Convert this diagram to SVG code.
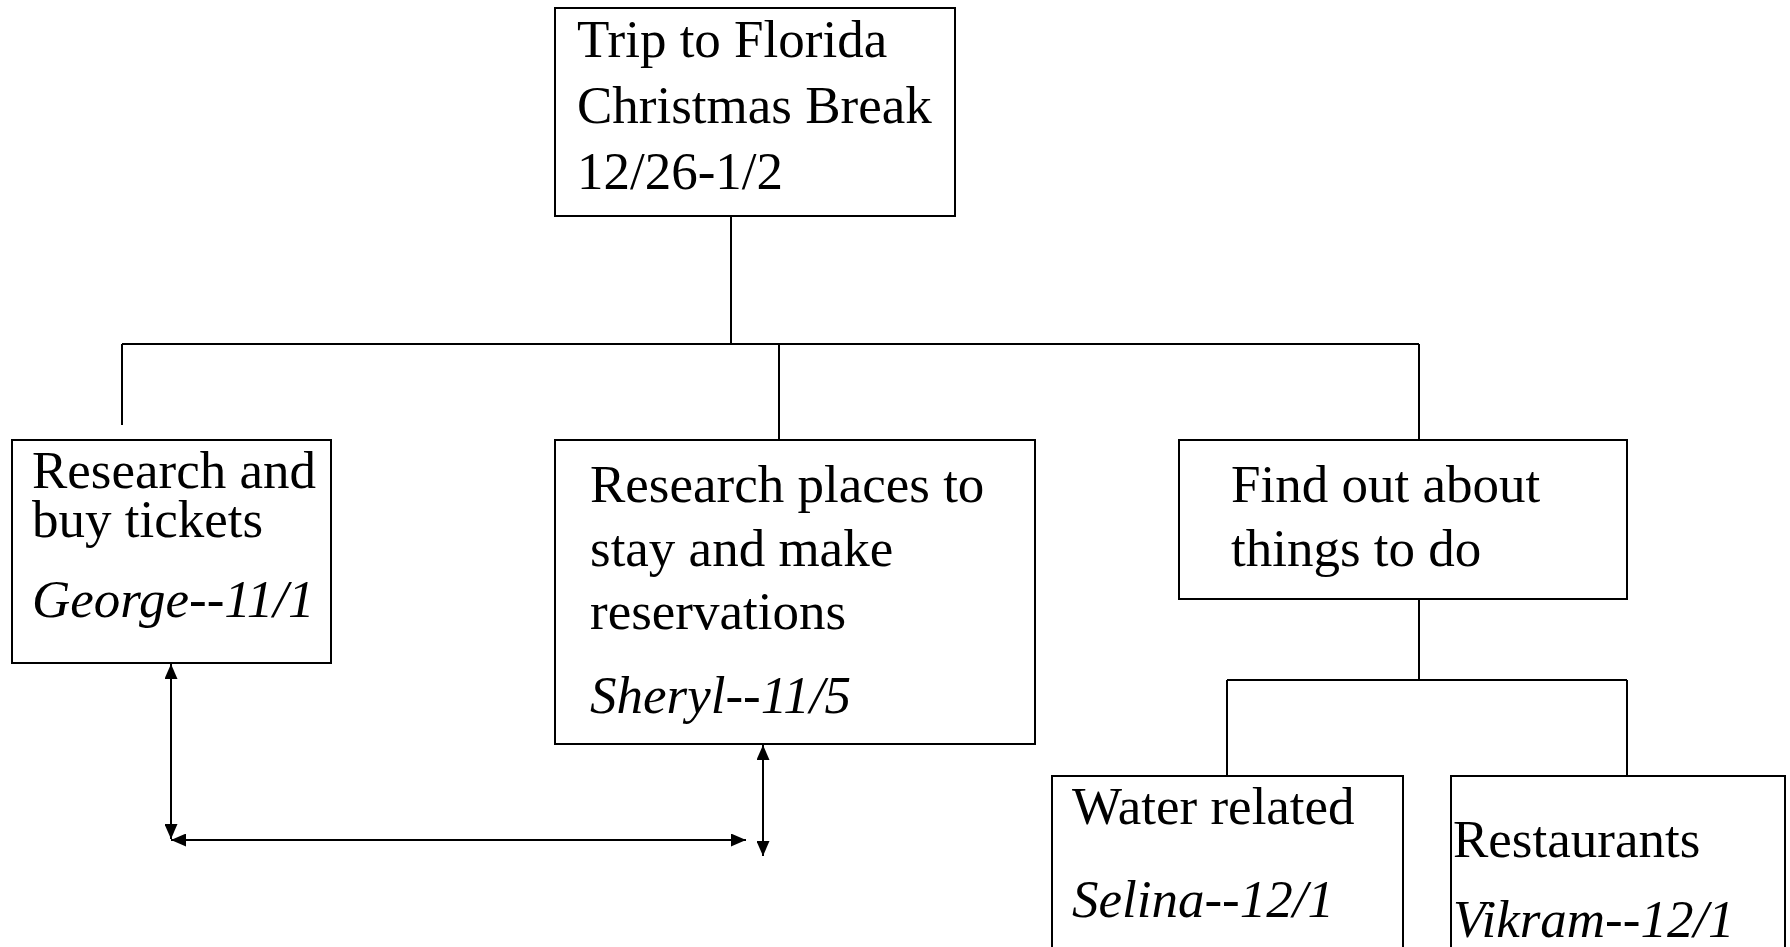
<svg xmlns="http://www.w3.org/2000/svg" width="1790" height="947" viewBox="0 0 1790 947">
<style>
.box{fill:#fff;stroke:#000;stroke-width:2}
.t{font-family:"Liberation Serif","Times New Roman",serif;font-size:53px;fill:#000}
.i{font-style:italic}
.ln{fill:none;stroke:#000;stroke-width:2}
</style>
<defs>
<marker id="ah" viewBox="0 0 15 13" refX="15" refY="6.5" markerWidth="15" markerHeight="13" markerUnits="userSpaceOnUse" orient="auto-start-reverse">
<path d="M0,0 L15,6.5 L0,13 z" fill="#000"/>
</marker>
</defs>
<rect width="1790" height="947" fill="#fff"/>
<g id="connectors">
<path class="ln" d="M731,216 V344 M122,344 H1419 M122,344 V425 M779,344 V440 M1419,344 V440 M1419,599 V680 M1227,680 H1627 M1227,680 V776 M1627,680 V776"/>
<line class="ln" x1="171" y1="664" x2="171" y2="839" marker-start="url(#ah)" marker-end="url(#ah)"/>
<line class="ln" x1="171" y1="840" x2="746" y2="840" marker-start="url(#ah)" marker-end="url(#ah)"/>
<line class="ln" x1="763" y1="745" x2="763" y2="856" marker-start="url(#ah)" marker-end="url(#ah)"/>
</g>
<g id="trip">
<rect class="box" x="555" y="8" width="400" height="208"/>
<text class="t" x="577" y="57">Trip to Florida</text>
<text class="t" x="577" y="123">Christmas Break</text>
<text class="t" x="577" y="189">12/26-1/2</text>
</g>
<g id="tickets">
<rect class="box" x="12" y="440" width="319" height="223"/>
<text class="t" x="32" y="488">Research and</text>
<text class="t" x="32" y="537">buy tickets</text>
<text class="t i" x="32" y="617">George--11/1</text>
</g>
<g id="stay">
<rect class="box" x="555" y="440" width="480" height="304"/>
<text class="t" x="590" y="502">Research places to</text>
<text class="t" x="590" y="566">stay and make</text>
<text class="t" x="590" y="629">reservations</text>
<text class="t i" x="590" y="713">Sheryl--11/5</text>
</g>
<g id="things">
<rect class="box" x="1179" y="440" width="448" height="159"/>
<text class="t" x="1231" y="502">Find out about</text>
<text class="t" x="1231" y="566">things to do</text>
</g>
<g id="water">
<rect class="box" x="1052" y="776" width="351" height="190"/>
<text class="t" x="1072" y="824">Water related</text>
<text class="t i" x="1072" y="917">Selina--12/1</text>
</g>
<g id="restaurants">
<rect class="box" x="1451" y="776" width="334" height="190"/>
<text class="t" x="1453" y="857">Restaurants</text>
<text class="t i" x="1453" y="937">Vikram--12/1</text>
</g>
</svg>
